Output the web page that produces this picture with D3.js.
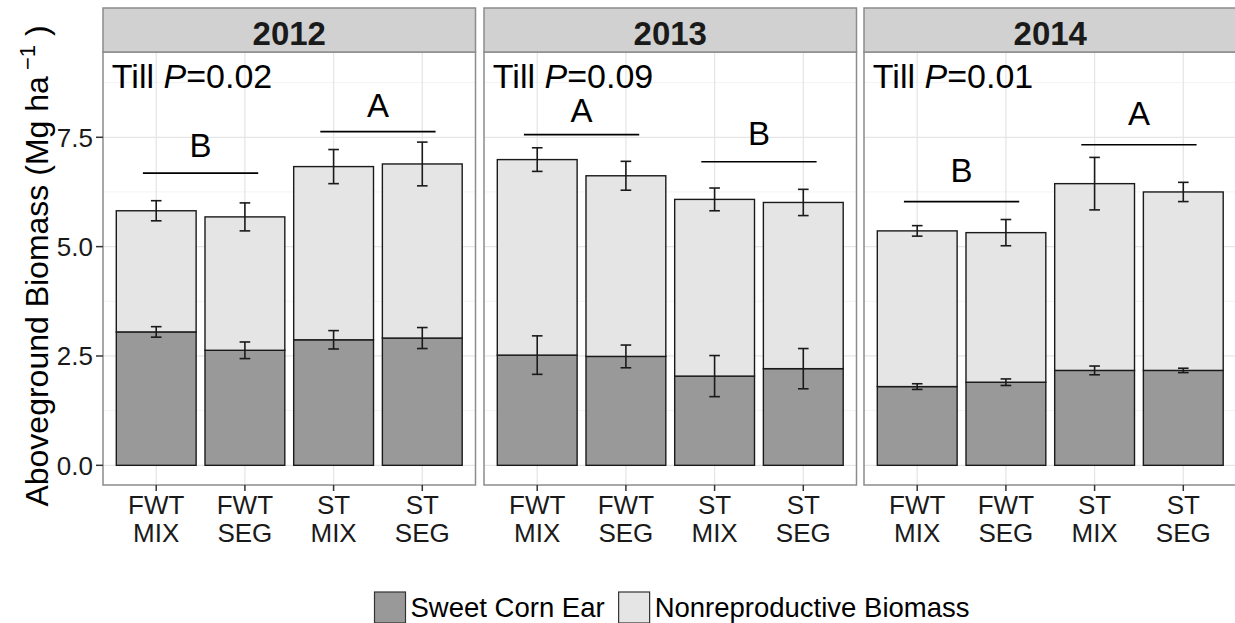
<!DOCTYPE html>
<html>
<head>
<meta charset="utf-8">
<script src="https://cdn.jsdelivr.net/npm/d3@7"></script>
<style>
  html, body { margin: 0; padding: 0; background: #fff; }
  svg { display: block; }
  text { font-family: "Liberation Sans", Arial, sans-serif; }
</style>
</head>
<body>
<svg id="chart" width="1235" height="623"></svg>
<script>
// ---------------- data ----------------
const years = ["2012", "2013", "2014"];
const treatments = ["FWT\nMIX", "FWT\nSEG", "ST\nMIX", "ST\nSEG"];
const seriesNames = ["Sweet Corn Ear", "Nonreproductive Biomass"];

// Sweet corn ear biomass (Mg/ha), per year, per treatment
const earMean = [
  [3.05, 2.63, 2.87, 2.91],
  [2.52, 2.49, 2.04, 2.21],
  [1.80, 1.90, 2.17, 2.17]
];
const earSE = [
  [0.12, 0.19, 0.21, 0.24],
  [0.44, 0.26, 0.47, 0.46],
  [0.065, 0.075, 0.10, 0.05]
];
// Nonreproductive biomass (stacked above ear)
const nonrepMean = [
  [2.77, 3.05, 3.96, 3.98],
  [4.47, 4.13, 4.04, 3.80],
  [3.56, 3.42, 4.27, 4.08]
];
// SE of total aboveground biomass
const totalSE = [
  [0.23, 0.32, 0.39, 0.50],
  [0.27, 0.33, 0.26, 0.30],
  [0.12, 0.30, 0.60, 0.22]
];
const tillP = ["0.02", "0.09", "0.01"];
// letter groups: [first treatment index, second index, line y, letter, letter y]
const letterGroups = [
  [[0, 1, 6.68, "B", 7.32], [2, 3, 7.63, "A", 8.23]],
  [[0, 1, 7.56, "A", 8.12], [2, 3, 6.94, "B", 7.60]],
  [[0, 1, 6.03, "B", 6.75], [2, 3, 7.33, "A", 8.05]]
];
const yTicks = [0, 2.5, 5.0, 7.5];
const yMinorTicks = [1.25, 3.75, 6.25, 8.75];
const yDomain = [-0.45, 9.45];
const fills = ["#999999", "#E5E5E5"];

// ---------------- layout ----------------
const svg = d3.select("#chart");
const panelTop = 52, panelBottom = 485, stripTop = 8;
const panelLefts = [103, 484, 864];
const panelW = 372.5;
const font = '"Liberation Sans", Arial, sans-serif';

const y = d3.scaleLinear().domain(yDomain).range([panelBottom, panelTop]);

const stack = d3.stack().keys([0, 1]);

years.forEach((yr, p) => {
  const x0 = panelLefts[p];
  const x = d3.scalePoint().domain(treatments).range([x0, x0 + panelW]).padding(0.6);
  const step = x.step();
  const bw = step * 0.9;
  const g = svg.append("g");

  // panel background
  g.append("rect").attr("x", x0).attr("y", panelTop).attr("width", panelW)
    .attr("height", panelBottom - panelTop).attr("fill", "#fff");

  // minor grid
  g.selectAll(".minor").data(yMinorTicks).enter().append("line")
    .attr("x1", x0).attr("x2", x0 + panelW)
    .attr("y1", d => y(d)).attr("y2", d => y(d))
    .attr("stroke", "#F3F3F3").attr("stroke-width", 1);
  // major grid
  g.selectAll(".major").data(yTicks).enter().append("line")
    .attr("x1", x0).attr("x2", x0 + panelW)
    .attr("y1", d => y(d)).attr("y2", d => y(d))
    .attr("stroke", "#E6E6E6").attr("stroke-width", 1.3);
  g.selectAll(".vgrid").data(treatments).enter().append("line")
    .attr("x1", d => x(d)).attr("x2", d => x(d))
    .attr("y1", panelTop).attr("y2", panelBottom)
    .attr("stroke", "#E6E6E6").attr("stroke-width", 1.3);

  // stacked bars
  const rows = treatments.map((t, i) => ({ t, 0: earMean[p][i], 1: nonrepMean[p][i] }));
  const stacked = stack(rows);
  stacked.forEach((layer, k) => {
    g.selectAll(".bar" + k).data(layer).enter().append("rect")
      .attr("x", d => x(d.data.t) - bw / 2)
      .attr("width", bw)
      .attr("y", d => y(d[1]))
      .attr("height", d => y(d[0]) - y(d[1]))
      .attr("fill", fills[k])
      .attr("stroke", "#1a1a1a").attr("stroke-width", 1.4);
  });

  // error bars
  const cap = step * 0.12;
  const errs = [];
  treatments.forEach((t, i) => {
    const top = earMean[p][i] + nonrepMean[p][i];
    errs.push({ t, m: top, s: totalSE[p][i] });
    errs.push({ t, m: earMean[p][i], s: earSE[p][i] });
  });
  const eg = g.selectAll(".err").data(errs).enter().append("g")
    .attr("stroke", "#1a1a1a").attr("stroke-width", 1.6).attr("fill", "none");
  eg.append("line").attr("x1", d => x(d.t)).attr("x2", d => x(d.t))
    .attr("y1", d => y(d.m - d.s)).attr("y2", d => y(d.m + d.s));
  eg.append("line").attr("x1", d => x(d.t) - cap / 2).attr("x2", d => x(d.t) + cap / 2)
    .attr("y1", d => y(d.m + d.s)).attr("y2", d => y(d.m + d.s));
  eg.append("line").attr("x1", d => x(d.t) - cap / 2).attr("x2", d => x(d.t) + cap / 2)
    .attr("y1", d => y(d.m - d.s)).attr("y2", d => y(d.m - d.s));

  // letter annotations
  letterGroups[p].forEach(([a, b, ly, letter, ty]) => {
    const xa = x(treatments[a]) - 0.15 * step, xb = x(treatments[b]) + 0.15 * step;
    g.append("line").attr("x1", xa).attr("x2", xb).attr("y1", y(ly)).attr("y2", y(ly))
      .attr("stroke", "#000").attr("stroke-width", 1.6);
    g.append("text").attr("x", (xa + xb) / 2).attr("y", y(ty) + 0.36 * 33)
      .attr("text-anchor", "middle").attr("font-size", 33).attr("fill", "#000")
      .text(letter);
  });

  // Till P text
  const tt = g.append("text").attr("x", x(treatments[0]) - 0.5 * step)
    .attr("y", y(8.9) + 0.36 * 34).attr("font-size", 34).attr("fill", "#000");
  tt.append("tspan").text("Till ");
  tt.append("tspan").attr("font-style", "italic").text("P");
  tt.append("tspan").text("=" + tillP[p]);

  // panel border
  g.append("rect").attr("x", x0).attr("y", panelTop).attr("width", panelW)
    .attr("height", panelBottom - panelTop).attr("fill", "none")
    .attr("stroke", "#8C8C8C").attr("stroke-width", 1.5);

  // strip
  g.append("rect").attr("x", x0).attr("y", stripTop).attr("width", panelW)
    .attr("height", panelTop - stripTop).attr("fill", "#D1D1D1")
    .attr("stroke", "#8C8C8C").attr("stroke-width", 1.5);
  g.append("text").attr("x", x0 + panelW / 2).attr("y", 44.5)
    .attr("text-anchor", "middle").attr("font-size", 33).attr("font-weight", "bold")
    .attr("fill", "#1a1a1a").text(yr);

  // x axis ticks & labels
  const xa = g.append("g");
  xa.selectAll(".xt").data(treatments).enter().append("line")
    .attr("x1", d => x(d)).attr("x2", d => x(d))
    .attr("y1", panelBottom).attr("y2", panelBottom + 6)
    .attr("stroke", "#333").attr("stroke-width", 1.5);
  const lbl = xa.selectAll(".xl").data(treatments).enter().append("text")
    .attr("text-anchor", "middle").attr("font-size", 26).attr("fill", "#1a1a1a");
  lbl.each(function (d) {
    const parts = d.split("\n");
    const el = d3.select(this);
    parts.forEach((s, k) => {
      el.append("tspan").attr("x", x(d)).attr("y", 514 + k * 28).text(s);
    });
  });
});

// y axis (left panel only)
const ya = svg.append("g");
ya.selectAll(".yt").data(yTicks).enter().append("line")
  .attr("x1", 96).attr("x2", panelLefts[0])
  .attr("y1", d => y(d)).attr("y2", d => y(d))
  .attr("stroke", "#333").attr("stroke-width", 1.5);
ya.selectAll(".yl").data(yTicks).enter().append("text")
  .attr("x", 93).attr("y", d => y(d) + 0.36 * 26)
  .attr("text-anchor", "end").attr("font-size", 26).attr("fill", "#1a1a1a")
  .text(d => d3.format(".1f")(d));

// y axis title
const yt = svg.append("text")
  .attr("transform", "translate(48,266) rotate(-90)")
  .attr("text-anchor", "middle").attr("font-size", 32).attr("fill", "#000");
yt.append("tspan").text("Aboveground Biomass (Mg ha");
yt.append("tspan").attr("font-size", 22).attr("dy", -13).text(" \u22121");
yt.append("tspan").attr("dy", 13).text(" )");

// legend
const leg = svg.append("g");
let lx = 0;
seriesNames.forEach((name, k) => {
  leg.append("rect").attr("x", lx).attr("y", 592).attr("width", 31).attr("height", 31)
    .attr("fill", fills[k]).attr("stroke", "#333").attr("stroke-width", 1.2);
  const t = leg.append("text").attr("x", lx + 36).attr("y", 617)
    .attr("font-size", 27.5).attr("fill", "#000").text(name);
  lx += 36 + t.node().getComputedTextLength() + 14;
});
const lw = lx - 14;
leg.attr("transform", `translate(${672 - lw / 2},0)`);
</script>
</body>
</html>
